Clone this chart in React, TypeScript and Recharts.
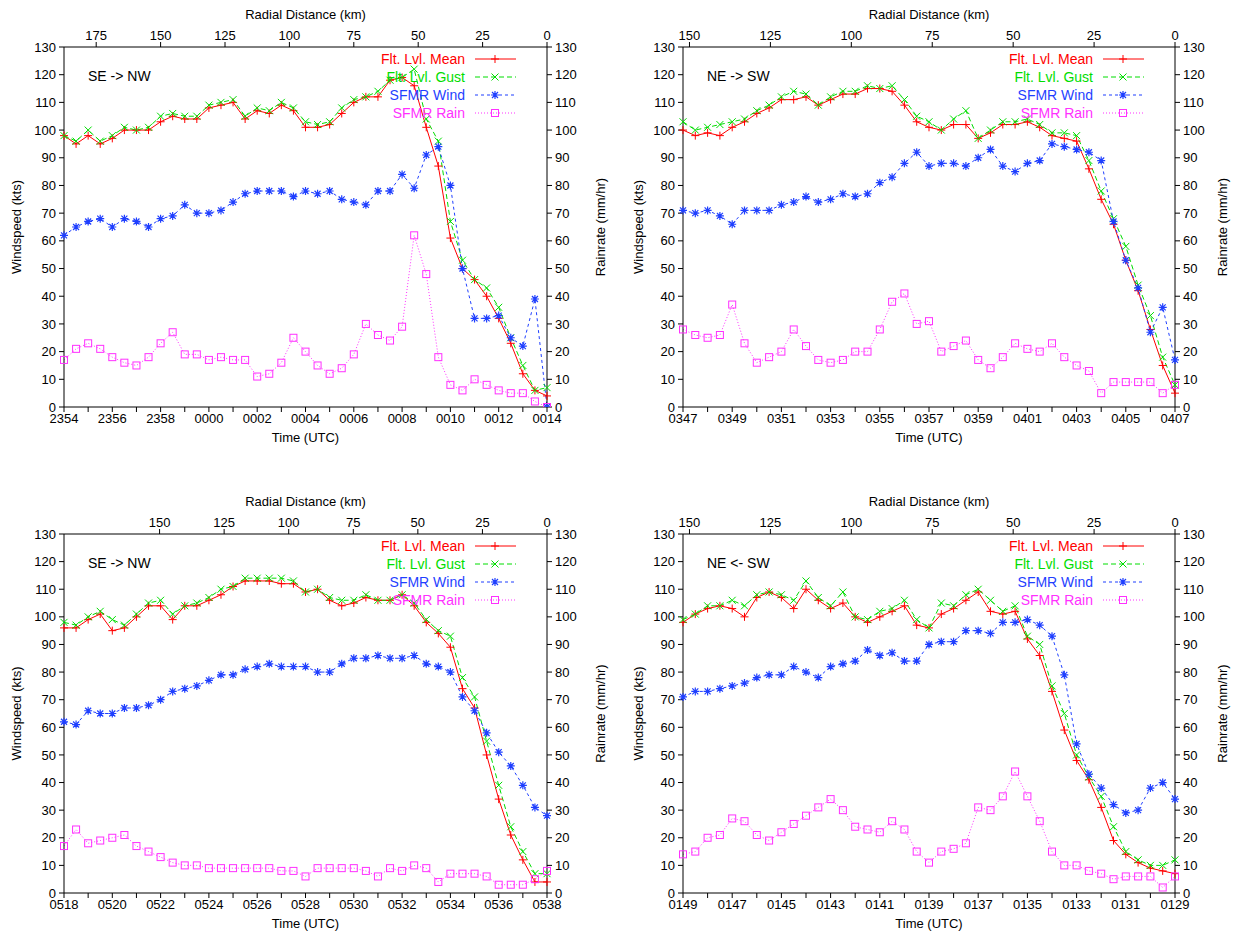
import React from 'react';
import { LineChart, Line, XAxis, YAxis } from 'recharts';

// values, one point every 30 s (41 per pass)
const P1_TIMES = ['2354', '2356', '2358', '0000', '0002', '0004', '0006', '0008', '0010', '0012', '0014'];
const P1_MEAN = [98, 95, 98, 95, 97, 100, 100, 100, 103, 105, 104, 104, 108, 109, 110, 104, 107, 106, 109, 107, 101, 101, 102, 106, 110, 112, 112, 118, 119, 116, 101, 87, 61, 50, 46, 40, 32, 23, 12, 6, 4];
const P1_GUST = [98, 96, 100, 96, 98, 101, 100, 101, 105, 106, 105, 105, 109, 110, 111, 105, 108, 107, 110, 108, 103, 102, 103, 108, 111, 112, 114, 118, 119, 122, 104, 96, 67, 53, 46, 43, 36, 25, 15, 6, 7];
const P1_WIND = [62, 65, 67, 68, 65, 68, 67, 65, 68, 69, 73, 70, 70, 71, 74, 77, 78, 78, 78, 76, 78, 77, 78, 75, 74, 73, 78, 78, 84, 79, 91, 94, 80, 50, 32, 32, 33, 25, 22, 39, 0];
const P1_RAIN = [17, 21, 23, 21, 18, 16, 15, 18, 23, 27, 19, 19, 17, 18, 17, 17, 11, 12, 16, 25, 20, 15, 12, 14, 19, 30, 26, 24, 29, 62, 48, 18, 8, 6, 10, 8, 6, 5, 5, 2, 0];
const P1_DIST = [175, 150, 125, 100, 75, 50, 25, 0];

const P2_TIMES = ['0347', '0349', '0351', '0353', '0355', '0357', '0359', '0401', '0403', '0405', '0407'];
const P2_MEAN = [100, 98, 99, 98, 101, 103, 106, 108, 111, 111, 112, 109, 111, 113, 113, 115, 115, 114, 109, 103, 101, 100, 102, 102, 97, 99, 102, 102, 103, 101, 98, 97, 96, 86, 75, 66, 53, 42, 28, 15, 5];
const P2_GUST = [103, 100, 101, 102, 103, 104, 107, 109, 112, 114, 113, 109, 112, 114, 114, 116, 115, 116, 111, 105, 103, 100, 104, 107, 97, 100, 103, 103, 104, 102, 99, 99, 98, 89, 78, 68, 58, 44, 33, 18, 8];
const P2_WIND = [71, 70, 71, 69, 66, 71, 71, 71, 73, 74, 76, 74, 75, 77, 76, 77, 81, 83, 88, 92, 87, 88, 88, 87, 90, 93, 87, 85, 88, 89, 95, 94, 93, 92, 89, 67, 53, 43, 27, 36, 17];
const P2_RAIN = [28, 26, 25, 26, 37, 23, 16, 18, 20, 28, 22, 17, 16, 17, 20, 20, 28, 38, 41, 30, 31, 20, 22, 24, 17, 14, 18, 23, 21, 20, 23, 18, 15, 13, 5, 9, 9, 9, 9, 5, 8];
const P2_DIST = [150, 125, 100, 75, 50, 25, 0];

const P3_TIMES = ['0518', '0520', '0522', '0524', '0526', '0528', '0530', '0532', '0534', '0536', '0538'];
const P3_MEAN = [96, 96, 99, 101, 95, 96, 100, 104, 104, 99, 104, 104, 106, 108, 111, 113, 113, 113, 112, 112, 109, 110, 106, 104, 105, 107, 106, 106, 108, 104, 98, 94, 89, 74, 67, 50, 34, 21, 12, 4, 4];
const P3_GUST = [98, 97, 100, 102, 99, 97, 101, 105, 106, 101, 104, 105, 107, 110, 111, 114, 114, 114, 114, 113, 109, 110, 107, 106, 106, 108, 106, 106, 108, 105, 99, 95, 93, 78, 71, 55, 39, 24, 15, 7, 7];
const P3_WIND = [62, 61, 66, 65, 65, 67, 67, 68, 70, 73, 74, 75, 77, 79, 79, 81, 82, 83, 82, 82, 82, 80, 80, 83, 85, 85, 86, 85, 85, 86, 83, 82, 80, 71, 66, 58, 51, 46, 39, 31, 28];
const P3_RAIN = [17, 23, 18, 19, 20, 21, 17, 15, 13, 11, 10, 10, 9, 9, 9, 9, 9, 9, 8, 8, 6, 9, 9, 9, 9, 8, 6, 9, 8, 10, 9, 4, 7, 7, 7, 6, 3, 3, 3, 5, 8];
const P3_DIST = [150, 125, 100, 75, 50, 25, 0];

const P4_TIMES = ['0149', '0147', '0145', '0143', '0141', '0139', '0137', '0135', '0133', '0131', '0129'];
const P4_MEAN = [98, 101, 103, 104, 103, 100, 107, 109, 107, 103, 110, 106, 103, 105, 100, 98, 100, 102, 104, 97, 96, 101, 103, 106, 109, 102, 101, 102, 92, 86, 73, 59, 48, 41, 31, 19, 14, 11, 9, 8, 7];
const P4_GUST = [99, 101, 104, 104, 106, 104, 108, 109, 108, 106, 113, 107, 104, 109, 100, 99, 102, 103, 106, 99, 96, 105, 104, 108, 110, 106, 102, 104, 93, 90, 75, 65, 50, 42, 35, 24, 15, 12, 10, 10, 12];
const P4_WIND = [71, 73, 73, 74, 75, 76, 78, 79, 79, 82, 80, 78, 82, 83, 84, 88, 86, 87, 84, 84, 90, 91, 91, 95, 95, 94, 98, 98, 99, 97, 93, 79, 54, 43, 38, 32, 29, 30, 38, 40, 34];
const P4_RAIN = [14, 15, 20, 21, 27, 26, 21, 19, 22, 25, 28, 31, 34, 30, 24, 23, 22, 26, 23, 15, 11, 15, 16, 18, 31, 30, 35, 44, 35, 26, 15, 10, 10, 8, 7, 5, 6, 6, 6, 2, 6];
const P4_DIST = [150, 125, 100, 75, 50, 25, 0];

const Y_TICKS = [0, 10, 20, 30, 40, 50, 60, 70, 80, 90, 100, 110, 120, 130];
const X_TICKS = Array.from({ length: 21 }, (_, i) => i * 2);

const RED = '#ff0000';
const GREEN = '#00dd00';
const BLUE = '#1f3fff';
const MAGENTA = '#ff30ff';
const FONT = 'Liberation Sans, Arial, sans-serif';

const PlusDot = (p: any) => (
  <path key={p.index} d={`M${p.cx - 4},${p.cy}h8M${p.cx},${p.cy - 4}v8`} stroke={RED} strokeWidth={1} fill="none" />
);
const CrossDot = (p: any) => (
  <path key={p.index} d={`M${p.cx - 3.5},${p.cy - 3.5}l7,7M${p.cx + 3.5},${p.cy - 3.5}l-7,7`} stroke={GREEN} strokeWidth={1} fill="none" />
);
const StarDot = (p: any) => (
  <path key={p.index} d={`M${p.cx - 4},${p.cy}h8M${p.cx},${p.cy - 4}v8M${p.cx - 3},${p.cy - 3}l6,6M${p.cx + 3},${p.cy - 3}l-6,6`} stroke={BLUE} strokeWidth={1.2} fill="none" />
);
const SquareDot = (p: any) => (
  <rect key={p.index} x={p.cx - 3.5} y={p.cy - 3.5} width={7} height={7} stroke={MAGENTA} strokeWidth={1} fill="none" />
);

const LEGEND = [
  { name: 'Flt. Lvl. Mean', color: RED, dash: undefined, Dot: PlusDot },
  { name: 'Flt. Lvl. Gust', color: GREEN, dash: '5 3', Dot: CrossDot },
  { name: 'SFMR Wind', color: BLUE, dash: '3 3', Dot: StarDot },
  { name: 'SFMR Rain', color: MAGENTA, dash: '1 2', Dot: SquareDot },
];

const GnuLegend = () => (
  <svg width={200} height={76} style={{ fontFamily: FONT, display: 'block' }}>
    {LEGEND.map((l, i) => (
      <g key={l.name}>
        <text x={132} y={13 + i * 18} textAnchor="end" fontSize={14} fill={l.color}>{l.name}</text>
        <line x1={142} x2={183} y1={8 + i * 18} y2={8 + i * 18} stroke={l.color} strokeDasharray={l.dash} />
        <l.Dot cx={162} cy={8 + i * 18} index={0} />
      </g>
    ))}
  </svg>
);

interface PanelProps {
  left: number; top: number;
  padL: number; padR: number; padT: number; padB: number;
  times: string[]; dist: number[]; maxDist: number;
  mean: number[]; gust: number[]; wind: number[]; rain: number[];
  tag: string;
}

function Panel(props: PanelProps) {
  const { left, top, padL, padR, padT, padB, times, dist, maxDist, tag } = props;
  const W = 622;
  const H = 469;
  const rows = props.mean.map((m, i) => ({
    i, km: (maxDist * (40 - i)) / 40, mean: m, gust: props.gust[i], wind: props.wind[i], rain: props.rain[i],
  }));
  const tickStyle = { fontSize: 13, fill: '#000', fontFamily: FONT };
  const labelStyle = { fontSize: 13, fill: '#000', fontFamily: FONT };
  return (
    <div style={{ position: 'absolute', left, top, width: W, height: H }}>
      <LineChart width={W} height={H} data={rows} margin={{ top: 0, right: 0, bottom: 0, left: 0 }}>
        <XAxis
          xAxisId="time" dataKey="i" type="number" domain={[0, 40]} ticks={X_TICKS}
          tickFormatter={(v: number) => (v % 4 === 0 ? times[v / 4] : '')}
          height={padB} stroke="#000" tick={tickStyle} tickSize={5} tickMargin={2}
          label={{ value: 'Time (UTC)', position: 'insideTop', offset: 26, style: labelStyle }}
        />
        <XAxis
          xAxisId="dist" dataKey="km" orientation="top" type="number" domain={[0, maxDist]} reversed
          ticks={dist} allowDataOverflow height={padT} stroke="#000" tick={tickStyle}
          tickSize={5} tickMargin={2}
          label={{ value: 'Radial Distance (km)', position: 'insideBottom', offset: 28, style: labelStyle }}
        />
        <YAxis
          yAxisId="wind" domain={[0, 130]} ticks={Y_TICKS} width={padL} stroke="#000"
          tick={tickStyle} tickSize={5} tickMargin={3} allowDataOverflow
          label={{ value: 'Windspeed (kts)', angle: -90, position: 'insideLeft', offset: 16, style: { ...labelStyle, textAnchor: 'middle' } }}
        />
        <YAxis
          yAxisId="rain" orientation="right" domain={[0, 130]} ticks={Y_TICKS} width={padR}
          stroke="#000" tick={tickStyle} tickSize={5} tickMargin={3} allowDataOverflow
          label={{ value: 'Rainrate (mm/hr)', angle: -90, position: 'insideRight', offset: 22, style: { ...labelStyle, textAnchor: 'middle' } }}
        />
        <Line xAxisId="time" yAxisId="wind" dataKey="mean" stroke={RED} strokeWidth={1} dot={PlusDot} isAnimationActive={false} />
        <Line xAxisId="time" yAxisId="wind" dataKey="gust" stroke={GREEN} strokeWidth={1} strokeDasharray="5 3" dot={CrossDot} isAnimationActive={false} />
        <Line xAxisId="time" yAxisId="wind" dataKey="wind" stroke={BLUE} strokeWidth={1} strokeDasharray="3 3" dot={StarDot} isAnimationActive={false} />
        <Line xAxisId="time" yAxisId="rain" dataKey="rain" stroke={MAGENTA} strokeWidth={1} strokeDasharray="1 2" dot={SquareDot} isAnimationActive={false} />
      </LineChart>
      <div style={{ position: 'absolute', left: padL + 24, top: padT + 21, fontFamily: FONT, fontSize: 14 }}>{tag}</div>
      <div style={{ position: 'absolute', right: padR + 14, top: padT + 4 }}>
        <GnuLegend />
      </div>
    </div>
  );
}

export default function App() {
  return (
    <div style={{ position: 'absolute', left: 0, top: 0, width: 1244, height: 938, background: '#fff' }}>
      <Panel left={0} top={0} padL={64} padR={75} padT={47} padB={62} times={P1_TIMES} dist={P1_DIST} maxDist={187.5}
        mean={P1_MEAN} gust={P1_GUST} wind={P1_WIND} rain={P1_RAIN} tag="SE -> NW" />
      <Panel left={622} top={0} padL={61} padR={69} padT={47} padB={62} times={P2_TIMES} dist={P2_DIST} maxDist={152}
        mean={P2_MEAN} gust={P2_GUST} wind={P2_WIND} rain={P2_RAIN} tag="NE -> SW" />
      <Panel left={0} top={469} padL={64} padR={75} padT={65} padB={45} times={P3_TIMES} dist={P3_DIST} maxDist={187}
        mean={P3_MEAN} gust={P3_GUST} wind={P3_WIND} rain={P3_RAIN} tag="SE -> NW" />
      <Panel left={622} top={469} padL={61} padR={69} padT={65} padB={45} times={P4_TIMES} dist={P4_DIST} maxDist={152}
        mean={P4_MEAN} gust={P4_GUST} wind={P4_WIND} rain={P4_RAIN} tag="NE <- SW" />
    </div>
  );
}
